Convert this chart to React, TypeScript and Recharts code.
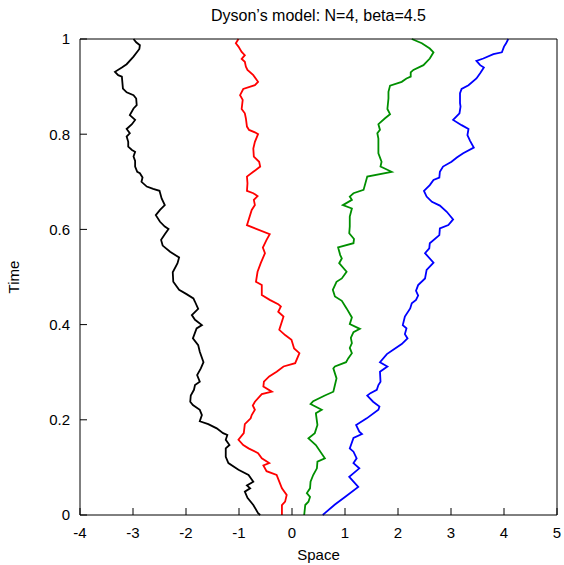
import React from 'react';
import { LineChart, Line, XAxis, YAxis } from 'recharts';

// each path is a list of [space, time] points, read from top (t=1) to bottom (t=0)
const BLACK: [number, number][] = [
  [-2.99, 1.0], [-2.94, 0.993], [-2.87, 0.987], [-2.88, 0.979], [-2.99, 0.963], [-3.12, 0.947],
  [-3.21, 0.94], [-3.34, 0.931], [-3.28, 0.924], [-3.21, 0.921], [-3.19, 0.896], [-3.12, 0.888],
  [-2.99, 0.882], [-2.94, 0.875], [-2.93, 0.861], [-2.99, 0.854], [-3.06, 0.84], [-2.96, 0.83],
  [-3.02, 0.821], [-3.12, 0.811], [-3.06, 0.802], [-3.12, 0.795], [-3.09, 0.784], [-3.09, 0.774],
  [-3.02, 0.767], [-2.96, 0.763], [-2.99, 0.753], [-2.96, 0.744], [-2.96, 0.732], [-2.92, 0.721],
  [-2.87, 0.718], [-2.82, 0.709], [-2.84, 0.7], [-2.74, 0.69], [-2.62, 0.685], [-2.5, 0.681],
  [-2.46, 0.665], [-2.4, 0.651], [-2.49, 0.641], [-2.57, 0.63], [-2.49, 0.616], [-2.4, 0.606],
  [-2.33, 0.601], [-2.4, 0.59], [-2.47, 0.578], [-2.44, 0.566], [-2.3, 0.553], [-2.13, 0.541],
  [-2.16, 0.529], [-2.25, 0.51], [-2.24, 0.49], [-2.13, 0.473], [-1.99, 0.464], [-1.86, 0.455],
  [-1.83, 0.448], [-1.77, 0.433], [-1.89, 0.42], [-1.83, 0.41], [-1.7, 0.399], [-1.8, 0.392],
  [-1.87, 0.371], [-1.77, 0.357], [-1.74, 0.343], [-1.67, 0.321], [-1.72, 0.308], [-1.79, 0.294],
  [-1.74, 0.28], [-1.83, 0.273], [-1.85, 0.263], [-1.91, 0.251], [-1.92, 0.238], [-1.87, 0.231],
  [-1.74, 0.221], [-1.7, 0.21], [-1.74, 0.197], [-1.58, 0.191], [-1.42, 0.182], [-1.3, 0.172],
  [-1.22, 0.168], [-1.25, 0.158], [-1.18, 0.147], [-1.25, 0.14], [-1.25, 0.122], [-1.2, 0.109],
  [-1.01, 0.095], [-0.82, 0.084], [-0.73, 0.07], [-0.85, 0.062], [-0.79, 0.056], [-0.89, 0.049],
  [-0.84, 0.036], [-0.73, 0.021], [-0.64, 0.004], [-0.6, 0],
];

const RED: [number, number][] = [
  [-1.01, 1.0], [-1.06, 0.991], [-1.01, 0.984], [-0.95, 0.973], [-0.89, 0.966], [-0.95, 0.958],
  [-0.89, 0.952], [-0.87, 0.942], [-0.84, 0.935], [-0.73, 0.924], [-0.64, 0.91], [-0.7, 0.903],
  [-0.92, 0.895], [-0.98, 0.882], [-0.93, 0.872], [-0.95, 0.853], [-0.89, 0.844], [-0.87, 0.833],
  [-0.85, 0.816], [-0.81, 0.809], [-0.7, 0.804], [-0.64, 0.8], [-0.7, 0.784], [-0.73, 0.77],
  [-0.72, 0.753], [-0.62, 0.742], [-0.6, 0.732], [-0.73, 0.721], [-0.85, 0.711], [-0.84, 0.697],
  [-0.85, 0.681], [-0.73, 0.676], [-0.65, 0.67], [-0.72, 0.662], [-0.7, 0.651], [-0.76, 0.641],
  [-0.85, 0.609], [-0.42, 0.59], [-0.48, 0.578], [-0.55, 0.562], [-0.51, 0.55], [-0.59, 0.529],
  [-0.65, 0.511], [-0.68, 0.49], [-0.57, 0.483], [-0.57, 0.462], [-0.42, 0.452], [-0.26, 0.443],
  [-0.21, 0.438], [-0.26, 0.427], [-0.16, 0.417], [-0.24, 0.389], [-0.13, 0.378], [-0.01, 0.368],
  [0.04, 0.35], [0.14, 0.34], [0.06, 0.319], [-0.16, 0.312], [-0.29, 0.301], [-0.43, 0.291],
  [-0.53, 0.28], [-0.54, 0.27], [-0.38, 0.259], [-0.57, 0.254], [-0.7, 0.238], [-0.74, 0.23],
  [-0.7, 0.221], [-0.76, 0.21], [-0.78, 0.203], [-0.89, 0.191], [-0.91, 0.172], [-1.01, 0.158],
  [-0.92, 0.147], [-0.82, 0.14], [-0.64, 0.13], [-0.57, 0.119], [-0.43, 0.109], [-0.54, 0.104],
  [-0.48, 0.092], [-0.29, 0.084], [-0.24, 0.07], [-0.19, 0.056], [-0.1, 0.042], [-0.13, 0.028],
  [-0.19, 0.021], [-0.19, 0],
];

const GREEN: [number, number][] = [
  [2.26, 1.0], [2.45, 0.991], [2.6, 0.98], [2.67, 0.972], [2.6, 0.959], [2.48, 0.945],
  [2.29, 0.935], [2.24, 0.93], [2.24, 0.921], [2.16, 0.917], [2.07, 0.91], [1.85, 0.902],
  [1.82, 0.889], [1.82, 0.875], [1.8, 0.853], [1.85, 0.842], [1.75, 0.833], [1.63, 0.821],
  [1.66, 0.809], [1.61, 0.802], [1.63, 0.791], [1.63, 0.777], [1.63, 0.76], [1.69, 0.742],
  [1.67, 0.732], [1.88, 0.721], [1.42, 0.711], [1.35, 0.683], [1.16, 0.676], [1.09, 0.669],
  [1.13, 0.662], [0.96, 0.651], [1.13, 0.644], [1.09, 0.627], [1.09, 0.606], [1.08, 0.592],
  [1.17, 0.58], [1.16, 0.571], [0.87, 0.562], [0.91, 0.546], [0.94, 0.539], [0.89, 0.529],
  [1.03, 0.511], [0.94, 0.497], [0.84, 0.49], [0.77, 0.473], [0.81, 0.459], [0.94, 0.45],
  [1.03, 0.434], [1.13, 0.415], [1.09, 0.401], [1.28, 0.391], [1.16, 0.384], [1.11, 0.372],
  [1.13, 0.361], [1.09, 0.351], [1.13, 0.34], [1.06, 0.329], [1.02, 0.321], [0.81, 0.312],
  [0.78, 0.308], [0.84, 0.287], [0.81, 0.273], [0.78, 0.259], [0.62, 0.251], [0.4, 0.239],
  [0.35, 0.233], [0.56, 0.221], [0.45, 0.214], [0.48, 0.189], [0.43, 0.172], [0.31, 0.161],
  [0.45, 0.147], [0.62, 0.119], [0.48, 0.112], [0.47, 0.098], [0.4, 0.084], [0.35, 0.07],
  [0.34, 0.056], [0.28, 0.046], [0.34, 0.038], [0.31, 0.028], [0.25, 0.021], [0.23, 0],
];

const BLUE: [number, number][] = [
  [4.08, 1.0], [4.04, 0.991], [4.0, 0.984], [3.96, 0.972], [3.8, 0.968], [3.61, 0.959],
  [3.48, 0.954], [3.55, 0.945], [3.62, 0.94], [3.55, 0.928], [3.48, 0.917], [3.33, 0.903],
  [3.2, 0.895], [3.17, 0.886], [3.17, 0.865], [3.18, 0.858], [3.16, 0.844], [3.04, 0.83],
  [3.2, 0.819], [3.33, 0.811], [3.31, 0.798], [3.36, 0.786], [3.43, 0.772], [3.23, 0.76],
  [3.11, 0.751], [3.01, 0.742], [2.85, 0.732], [2.79, 0.721], [2.78, 0.709], [2.67, 0.704],
  [2.6, 0.693], [2.49, 0.681], [2.54, 0.669], [2.64, 0.658], [2.79, 0.65], [2.92, 0.637],
  [3.04, 0.621], [2.95, 0.609], [2.79, 0.602], [2.78, 0.588], [2.6, 0.571], [2.59, 0.56],
  [2.51, 0.55], [2.67, 0.53], [2.54, 0.515], [2.51, 0.497], [2.38, 0.483], [2.34, 0.471],
  [2.38, 0.461], [2.34, 0.452], [2.26, 0.445], [2.23, 0.434], [2.13, 0.417], [2.09, 0.399],
  [2.16, 0.392], [2.13, 0.38], [2.18, 0.371], [2.07, 0.359], [1.91, 0.347], [1.79, 0.338],
  [1.66, 0.321], [1.8, 0.312], [1.66, 0.301], [1.67, 0.28], [1.63, 0.273], [1.6, 0.263],
  [1.48, 0.256], [1.42, 0.251], [1.53, 0.238], [1.65, 0.228], [1.63, 0.221], [1.41, 0.203],
  [1.21, 0.189], [1.27, 0.175], [1.32, 0.17], [1.16, 0.162], [1.09, 0.14], [1.16, 0.133],
  [1.22, 0.119], [1.16, 0.109], [1.27, 0.098], [1.08, 0.08], [1.25, 0.059], [1.0, 0.038],
  [0.81, 0.022], [0.62, 0.004], [0.58, 0],
];

const X_TICKS = [-4, -3, -2, -1, 0, 1, 2, 3, 4, 5];
const Y_TICKS = [0, 0.2, 0.4, 0.6, 0.8, 1];

const SERIES = [
  { name: 'black', color: '#000000', path: BLACK },
  { name: 'red', color: '#ff0000', path: RED },
  { name: 'green', color: '#008f00', path: GREEN },
  { name: 'blue', color: '#0000ff', path: BLUE },
];

const toRows = (path: [number, number][]) => path.map(([x, t]) => ({ x, t }));

const tickStyle = { fill: '#000', fontSize: 15 };
const blank = () => '';

export default function App() {
  return (
    <div style={{ position: 'fixed', left: 0, top: 0, width: 564, height: 565, background: '#fff', fontFamily: '"Liberation Sans", Arial, sans-serif' }}>
      <LineChart width={564} height={565} margin={{ top: 38, right: 6, bottom: 0, left: 14 }}>
        <XAxis
          xAxisId="b" type="number" dataKey="x" domain={[-4, 5]} ticks={X_TICKS} interval={0}
          orientation="bottom" height={50} tickSize={-7} tickMargin={19}
          stroke="#000" tick={tickStyle}
          label={{ value: 'Space', position: 'insideBottom', offset: 5, fill: '#000', fontSize: 15 }}
        />
        {/* mirror axes only draw the frame and inward ticks on top and right */}
        <XAxis
          xAxisId="t" type="number" dataKey="x" domain={[-4, 5]} ticks={X_TICKS} interval={0}
          orientation="top" height={1} tickSize={-7} tickFormatter={blank} stroke="#000"
          label={{ value: 'Dyson’s model: N=4, beta=4.5', position: 'top', offset: 17, fill: '#000', fontSize: 16 }}
        />
        <YAxis
          yAxisId="l" type="number" domain={[0, 1]} ticks={Y_TICKS} interval={0}
          width={66} tickSize={-7} tickMargin={17} stroke="#000" tick={tickStyle}
          label={{ value: 'Time', angle: -90, position: 'insideLeft', offset: 0, fill: '#000', fontSize: 15, style: { textAnchor: 'middle' } }}
        />
        <YAxis
          yAxisId="r" orientation="right" type="number" domain={[0, 1]} ticks={Y_TICKS} interval={0}
          width={1} tickSize={-7} tickFormatter={blank} stroke="#000"
        />
        {SERIES.map((s) => (
          <Line
            key={s.name}
            xAxisId="b"
            yAxisId="l"
            data={toRows(s.path)}
            dataKey="t"
            type="linear"
            stroke={s.color}
            strokeWidth={1.8}
            dot={false}
            activeDot={false}
            isAnimationActive={false}
          />
        ))}
      </LineChart>
    </div>
  );
}
